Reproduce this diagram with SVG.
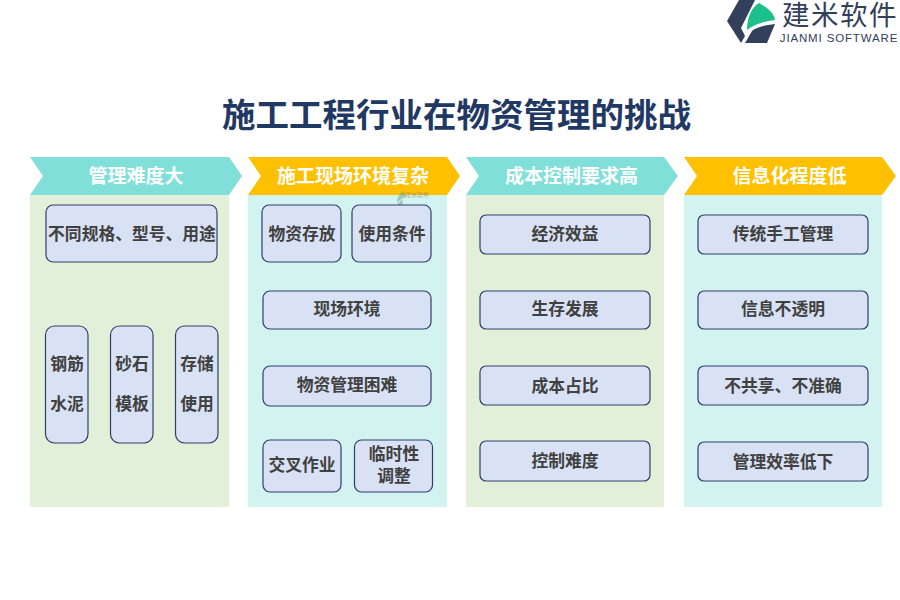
<svg xmlns="http://www.w3.org/2000/svg" width="900" height="600" viewBox="0 0 900 600">
<style>
text{font-family:"Noto Sans CJK SC","Liberation Sans",sans-serif;text-anchor:middle}
.t{font-size:33.5px;font-weight:700;fill:#1f3864}
.h{font-size:19px;font-weight:700;fill:#fff}
.b{fill:#d9e2f4;stroke:#2f3f6b;stroke-width:1.2}
.l{font-size:16.8px;font-weight:700;fill:#404040}
.g{fill:#e2f0d9}.c{fill:#d3f3f0}
.teal{fill:#80dfd8}.yel{fill:#ffc000}
.d{fill:#33405c}
</style>
<rect width="900" height="600" fill="#fff"/>
<g id="logo">
<path class="d" d="M739 0H755L741 28L745 36L741 43L727 21Z"/>
<path class="d" d="M745 43L752 31C757 27 766 25 775 24L767 43Z"/>
<path d="M747 30C747 18 751 8 759 3C766 7 774 12 775 20C765 21 754 24 747 30Z" fill="#1dbf8a"/>
<text x="840" y="25" style="font-size:27.500px;letter-spacing:1.500px;font-weight:400" fill="#33405c">建米软件</text>
<text x="839" y="42" style="font-family:'Liberation Sans',sans-serif;font-size:11.500px;letter-spacing:.85px" fill="#33405c">JIANMI SOFTWARE</text>
</g>
<text id="title" class="t" x="456.500" y="127">施工工程行业在物资管理的挑战</text>
<g id="col1">
<rect class="g" x="30" y="195" width="199" height="312"/>
<path class="teal" d="M30 157H229L242 176L229 195H30L43 176Z"/>
<text class="h" x="136" y="182.500">管理难度大</text>
</g>
<g id="col2">
<rect class="c" x="248" y="195" width="199" height="312"/>
<path class="yel" d="M248 157H447L460 176L447 195H248L261 176Z"/>
<text class="h" x="353" y="182.500">施工现场环境复杂</text>
<g id="watermark" opacity=".45">
<path d="M397 203C397 197 400 193 403 191C405 193 406 195 406 197C402 198 399 200 397 203Z" fill="#4f9d80"/>
<path d="M397 205L402 199L403 203L399 208Z" fill="#7a8598"/>
<text x="417" y="197" style="font-size:6px" fill="#56627a">建米软件</text>
</g>
</g>
<g id="col3">
<rect class="g" x="466" y="195" width="198" height="312"/>
<path class="teal" d="M466 157H664L678 176L664 195H466L479 176Z"/>
<text class="h" x="571.500" y="182.500">成本控制要求高</text>
</g>
<g id="col4">
<rect class="c" x="684" y="195" width="198" height="312"/>
<path class="yel" d="M684 157H882L896 176L882 195H684L697 176Z"/>
<text class="h" x="789.500" y="182.500">信息化程度低</text>
</g>
<g id="n1"><rect class="b" x="46" y="205" width="171" height="57" rx="7"/><text class="l" x="132" y="239.500">不同规格、型号、用途</text></g>
<g id="n2"><rect class="b" x="45.500" y="326" width="42.500" height="117" rx="9"/><text class="l" x="67" y="370">钢筋</text><text class="l" x="67" y="410">水泥</text></g>
<g id="n3"><rect class="b" x="110.500" y="326" width="42.500" height="117" rx="9"/><text class="l" x="132" y="370">砂石</text><text class="l" x="132" y="410">模板</text></g>
<g id="n4"><rect class="b" x="175.500" y="326" width="42.500" height="117" rx="9"/><text class="l" x="197" y="370">存储</text><text class="l" x="197" y="410">使用</text></g>
<g id="n5"><rect class="b" x="262" y="205" width="79" height="57" rx="7"/><text class="l" x="302" y="239.500">物资存放</text></g>
<g id="n6"><rect class="b" x="352" y="205" width="79" height="57" rx="7"/><text class="l" x="392" y="239.500">使用条件</text></g>
<g id="n7"><rect class="b" x="263" y="291" width="168" height="38" rx="7"/><text class="l" x="347" y="315">现场环境</text></g>
<g id="n8"><rect class="b" x="263" y="366" width="168" height="40" rx="7"/><text class="l" x="347" y="391">物资管理困难</text></g>
<g id="n9"><rect class="b" x="263" y="440" width="78" height="52" rx="7"/><text class="l" x="302" y="471">交叉作业</text></g>
<g id="n10"><rect class="b" x="354.500" y="440" width="78" height="52" rx="7"/><text class="l" x="394" y="460">临时性</text><text class="l" x="394" y="482">调整</text></g>
<g id="n11"><rect class="b" x="480" y="215" width="170" height="39" rx="6"/><text class="l" x="565" y="239.500">经济效益</text></g>
<g id="n12"><rect class="b" x="480" y="291" width="170" height="38" rx="6"/><text class="l" x="565" y="315">生存发展</text></g>
<g id="n13"><rect class="b" x="480" y="366" width="170" height="39" rx="6"/><text class="l" x="565" y="391.500">成本占比</text></g>
<g id="n14"><rect class="b" x="480" y="441" width="170" height="40" rx="6"/><text class="l" x="565" y="466.500">控制难度</text></g>
<g id="n15"><rect class="b" x="698" y="215" width="170" height="39" rx="6"/><text class="l" x="783" y="239.500">传统手工管理</text></g>
<g id="n16"><rect class="b" x="698" y="291" width="170" height="38" rx="6"/><text class="l" x="783" y="315">信息不透明</text></g>
<g id="n17"><rect class="b" x="698" y="366" width="170" height="39" rx="6"/><text class="l" x="783" y="391.500">不共享、不准确</text></g>
<g id="n18"><rect class="b" x="698" y="442" width="170" height="39" rx="6"/><text class="l" x="783" y="467.500">管理效率低下</text></g>
<g id="connectors"></g>
</svg>
